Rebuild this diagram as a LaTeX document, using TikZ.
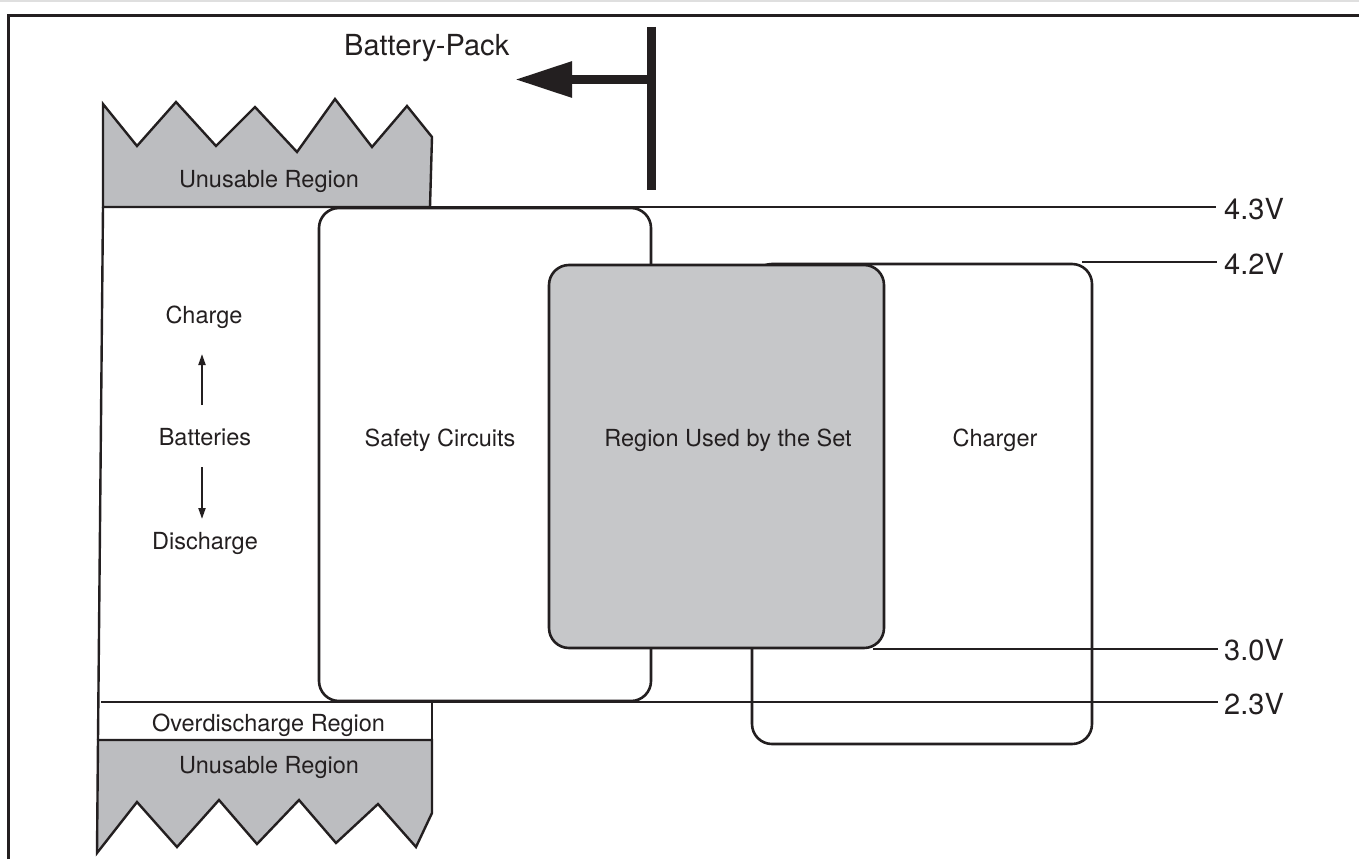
\documentclass[tikz,border=0pt]{standalone}
\usepackage{fontspec}
\setmainfont{TeX Gyre Heros}
\usetikzlibrary{arrows.meta}
\definecolor{ink}{HTML}{231F20}
\definecolor{shadeA}{HTML}{BCBDC0}
\definecolor{shadeB}{HTML}{C6C7C9}
\begin{document}
\begin{tikzpicture}[x=1pt,y=-1pt,
  lbl/.style={font=\fontsize{23.5}{28}\selectfont, text=ink, inner sep=0pt, anchor=base},
  vlbl/.style={font=\fontsize{29}{34}\selectfont, text=ink, inner sep=0pt, anchor=west},
  boxshape/.style={draw=ink, line width=2.6pt, rounded corners=20pt, inner sep=0pt},
  level/.style={draw=ink, line width=2pt},
  outline/.style={draw=ink, line width=2.4pt, line join=miter},
  smallarrow/.style={draw=ink, line width=2pt, -{Triangle[length=11pt,width=7pt]}}]
\useasboundingbox (0,0) rectangle (1359,859);
\fill[white] (0,0) rectangle (1359,859);
% page frame
\draw[gray!25, line width=2pt] (0,1) -- (1359,1);
\draw[ink, line width=3pt] (8,859) -- (8,16) -- (1359,16);

% Battery-Pack arrow and bar
\node[font=\fontsize{29}{34}\selectfont, text=ink, inner sep=0pt, anchor=base west] (bptxt) at (344,56) {Battery-Pack};
\coordinate (bpbar) at (648,79.5);
\coordinate (bptip) at (515,79.5);
\draw[ink, line width=9pt, -{Triangle[length=57pt,width=34pt]}] (bpbar) -- (bptip);
\coordinate (bartop) at (651.5,27);
\coordinate (barbot) at (651.5,190);
\draw[ink, line width=8.5pt] (bartop) -- (barbot);

% top unusable region
\filldraw[fill=shadeA, outline] (103,207) -- (103,104) -- (137,146) -- (176,102) -- (216,146) -- (255,107) -- (297,152) -- (335,99) -- (372,147) -- (407,106) -- (432,137) -- (430,207) -- cycle;
\node[lbl] (unusetop) at (269,187) {Unusable Region};

% level labels
\node[vlbl] (v43) at (1224,209) {4.3V};
\node[vlbl] (v42) at (1224,264) {4.2V};
\node[vlbl] (v30) at (1224,650) {3.0V};
\node[vlbl] (v23) at (1224,704) {2.3V};

% level lines
\coordinate (l43a) at (103,207);
\coordinate (l43b) at (1216,207);
\coordinate (l42a) at (1082,262);
\coordinate (l42b) at (1217,262);
\coordinate (l30a) at (873,649);
\coordinate (l30b) at (1218,649);
\coordinate (l23a) at (101,702);
\coordinate (l23b) at (1218,702);
\draw[level] (l43a) -- (l43b);
\draw[level] (l42a) -- (l42b);
\draw[level] (l30a) -- (l30b);
\draw[level] (l23a) -- (l23b);

% left edge of battery region
\draw[outline] (103,207) -- (98,740);

% lower region
\draw[outline] (432,703) -- (432,740);
\filldraw[fill=shadeA, outline] (98,740) -- (432,740) -- (432,813) -- (416,847) -- (378,804) -- (336,843) -- (299,800) -- (257,844) -- (219,800) -- (177,847) -- (137,802) -- (97,853) -- cycle;
\node[lbl] (overdis) at (268.5,731) {Overdischarge Region};
\node[lbl] (unusebot) at (269,773) {Unusable Region};

% battery labels
\node[lbl] (chargetxt) at (204,323) {Charge};
\node[lbl] (batt) at (205,445) {Batteries};
\node[lbl] (distxt) at (205,549) {Discharge};
\coordinate (upfrom) at (202,405);
\coordinate (upto) at (202,354);
\coordinate (dnfrom) at (202,467);
\coordinate (dnto) at (202,519);
\draw[smallarrow] (upfrom) -- (upto);
\draw[smallarrow] (dnfrom) -- (dnto);

% boxes
\node[boxshape, minimum width=340pt, minimum height=480pt] (charger) at (922,504) {};
\node[boxshape, minimum width=332pt, minimum height=493pt] (safety) at (485,454.5) {};
\node[boxshape, fill=shadeB, minimum width=335pt, minimum height=383pt] (setregion) at (716.5,456.5) {};

\node[lbl] (safetytxt) at (440,446) {Safety Circuits};
\node[lbl] (settxt) at (728,446) {Region Used by the Set};
\node[lbl] (chargertxt) at (995,446) {Charger};
\end{tikzpicture}
\end{document}
